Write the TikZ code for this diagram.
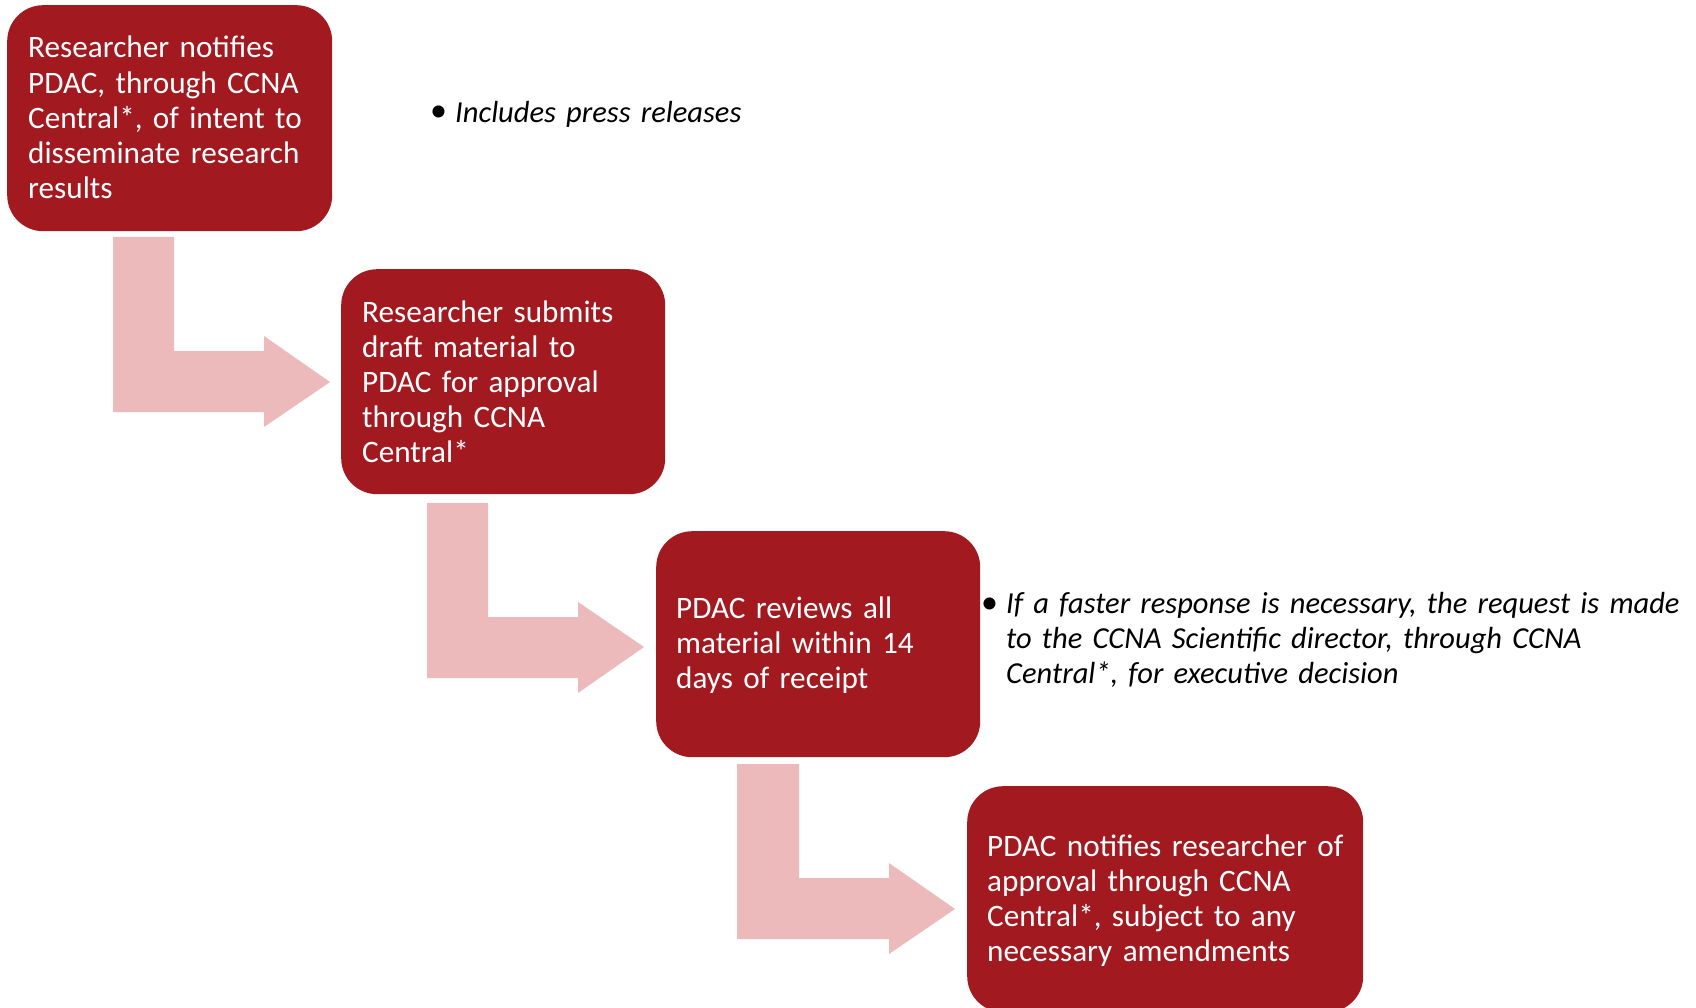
\documentclass[tikz,border=0pt]{standalone}
\usepackage{fontspec}
\setmainfont{Carlito}
\usetikzlibrary{calc}
\definecolor{boxred}{RGB}{162,25,32}
\definecolor{arrowpink}{RGB}{236,186,186}
\begin{document}
\begin{tikzpicture}[x=1pt,y=-1pt,
  box/.style={draw=none, fill=boxred, rounded corners=36pt, anchor=north west, inner sep=0pt, minimum width=#1},
  box/.default=325,
  boxtext/.style={anchor=base west, inner sep=0pt, text=white, text width=420pt, align=left,
    font=\fontsize{31.2}{35.2}\selectfont},
  notetext/.style={anchor=base west, inner sep=0pt, text=black, text width=720pt, align=left,
    font=\fontsize{30.5}{35.2}\selectfont\itshape},
  bullet/.style={anchor=base west, inner sep=0pt, text=black, font=\fontsize{34}{35.2}\selectfont},
  bentarrow/.style={fill=arrowpink, draw=none}
]
\useasboundingbox (0,0) rectangle (1696,1008);
\fill[white] (0,0) rectangle (1696,1008);

% boxes
\node[box=325, minimum height=226] (b1) at (7,5) {};
\node[box=324, minimum height=225] (b2) at (341,269) {};
\node[box=324, minimum height=226] (b3) at (656,531) {};
\node[box=396, minimum height=226] (b4) at (967,786) {};

% box texts
\node[boxtext] (t1) at ($(b1.north west)+(21,53)$) {Researcher notifies\\PDAC, through CCNA\\Central*, of intent to\\disseminate research\\results};
\node[boxtext] (t2) at ($(b2.north west)+(21,53)$) {Researcher submits\\draft material to\\PDAC for approval\\through CCNA\\Central*};
\node[boxtext] (t3) at ($(b3.north west)+(20,87)$) {PDAC reviews all\\material within 14\\days of receipt};
\node[boxtext] (t4) at ($(b4.north west)+(20,70)$) {PDAC notifies researcher of\\approval through CCNA\\Central*, subject to any\\necessary amendments};

% bent arrows
\fill[bentarrow] (113,237) -- (174,237) -- (174,351) -- (264,351) -- (264,336) -- (330,382)
  -- (264,427) -- (264,412) -- (113,412) -- cycle;
\fill[bentarrow] (427,503) -- (488,503) -- (488,617) -- (578,617) -- (578,602) -- (644,647)
  -- (578,693) -- (578,678) -- (427,678) -- cycle;
\fill[bentarrow] (737,764) -- (799,764) -- (799,878) -- (889,878) -- (889,863) -- (955,909)
  -- (889,954) -- (889,939) -- (737,939) -- cycle;

% notes
\node[bullet] (n1b) at (430,122) {•};
\node[notetext] (n1) at (455,123) {Includes press releases};
\node[bullet] (n2b) at (981,613) {•};
\node[notetext] (n2) at (1006,613) {If a faster response is necessary, the request is made\\to the CCNA Scientific director, through CCNA\\Central*, for executive decision};
\end{tikzpicture}
\end{document}
